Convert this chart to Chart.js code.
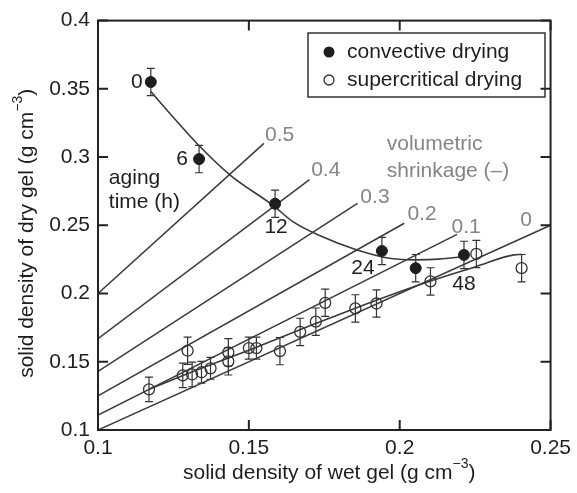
<!DOCTYPE html>
<html>
<head>
<meta charset="utf-8">
<script src="https://cdn.jsdelivr.net/npm/chart.js@4.4.0/dist/chart.umd.min.js"></script>
<style>
  body { margin: 0; background: #fff; }
</style>
</head>
<body>
<canvas id="gel-canvas" width="577" height="493"></canvas>
<script>
// convective drying, one point per aging time (h)
var agingLabels = ["0", "6", "12", "24", "", "48"];
var convWet = [0.1175, 0.1335, 0.1587, 0.1941, 0.2053, 0.2213];
var convDry = [0.355, 0.2985, 0.2658, 0.2312, 0.2186, 0.2283];
var convErr = [0.010, 0.010, 0.010, 0.010, 0.010, 0.010];

// supercritical drying
var superWet = [0.1169, 0.1281, 0.1297, 0.1312, 0.1343, 0.1373, 0.1432, 0.1432, 0.150, 0.1525,
                0.1603, 0.167, 0.1722, 0.1753, 0.1853, 0.1923, 0.2102, 0.2254, 0.2404];
var superDry = [0.1298, 0.140, 0.1581, 0.1407, 0.1423, 0.1452, 0.1569, 0.1503, 0.160, 0.160,
                0.1578, 0.1719, 0.1794, 0.1932, 0.1891, 0.1927, 0.2089, 0.229, 0.2186];
var superErr = [0.009, 0.009, 0.010, 0.009, 0.008, 0.008, 0.010, 0.010, 0.008, 0.008,
                0.010, 0.010, 0.010, 0.010, 0.010, 0.010, 0.010, 0.010, 0.010];

// guide curves through both data sets
var convCurveWet = [0.1175, 0.125, 0.1332, 0.144, 0.158, 0.1647, 0.175, 0.1842, 0.195, 0.2048, 0.213, 0.2213];
var convCurveDry = [0.348, 0.329, 0.309, 0.2864, 0.2646, 0.2525, 0.241, 0.2331, 0.2264, 0.2247, 0.2252, 0.227];
var superCurveWet = [0.1169, 0.13, 0.15, 0.17, 0.1853, 0.2, 0.21, 0.225, 0.2379, 0.2404];
var superCurveDry = [0.1298, 0.1415, 0.1585, 0.1762, 0.1893, 0.2013, 0.209, 0.2195, 0.2283, 0.2286];

// lines of constant volumetric shrinkage, from wet density 0.1 to their end
var shrinkLabels = ["0", "0.1", "0.2", "0.3", "0.4", "0.5"];
var shrinkStartDry = [0.1, 0.111, 0.125, 0.143, 0.167, 0.2];
var shrinkEndWet = [0.25, 0.219, 0.2015, 0.186, 0.1701, 0.155];
var shrinkEndDry = [0.25, 0.2433, 0.2515, 0.266, 0.2835, 0.31];

var xTickLabels = ["0.1", "0.15", "0.2", "0.25"];
var yTickLabels = ["0.1", "0.15", "0.2", "0.25", "0.3", "0.35", "0.4"];

var FONT = "'Liberation Sans', Arial, sans-serif";
var FS = 21;
var INK = "#1e1e1e";
var GREY = "#858585";

function pts(xs, ys) {
  return xs.map(function(x, i) { return { x: x, y: ys[i] }; });
}

var datasets = [];
datasets.push({
  label: "convective drying",
  data: pts(convWet, convDry),
  showLine: false,
  pointRadius: 5.5,
  pointBackgroundColor: INK,
  pointBorderColor: INK,
  pointBorderWidth: 1,
  order: 0
});
datasets.push({
  label: "supercritical drying",
  data: pts(superWet, superDry),
  showLine: false,
  pointRadius: 5.5,
  pointBackgroundColor: "rgba(0,0,0,0)",
  pointBorderColor: "#333",
  pointBorderWidth: 1.3,
  order: 1
});
datasets.push({
  data: pts(convCurveWet, convCurveDry),
  showLine: true,
  pointRadius: 0,
  borderColor: "#3a3a3a",
  borderWidth: 1.6,
  cubicInterpolationMode: "monotone",
  order: 2
});
datasets.push({
  data: pts(superCurveWet, superCurveDry),
  showLine: true,
  pointRadius: 0,
  borderColor: "#3a3a3a",
  borderWidth: 1.6,
  cubicInterpolationMode: "monotone",
  order: 2
});
for (var s = 0; s < shrinkLabels.length; s++) {
  datasets.push({
    data: [{ x: 0.1, y: shrinkStartDry[s] }, { x: shrinkEndWet[s], y: shrinkEndDry[s] }],
    showLine: true,
    pointRadius: 0,
    borderColor: "#3a3a3a",
    borderWidth: 1.5,
    order: 3
  });
}

// text placed in data units
var agingOffsets = [[-14, 0], [-17, 0], [1, 23], [-19, 17], [0, 0], [0, 29]];
var shrinkLabelPos = [[0.2419, 0.254], [0.222, 0.2489], [0.2074, 0.2583], [0.1918, 0.2707], [0.1755, 0.2903], [0.1602, 0.3157]];

function supText(ctx, base, sup, tail, x, y, size) {
  ctx.font = size + "px " + FONT;
  var w1 = ctx.measureText(base).width;
  var w3 = ctx.measureText(tail).width;
  ctx.font = Math.round(size * 0.68) + "px " + FONT;
  var w2 = ctx.measureText(sup).width;
  var x0 = x - (w1 + w2 + w3) / 2;
  ctx.textAlign = "left";
  ctx.textBaseline = "middle";
  ctx.font = size + "px " + FONT;
  ctx.fillText(base, x0, y);
  ctx.font = Math.round(size * 0.68) + "px " + FONT;
  ctx.fillText(sup, x0 + w1, y - size * 0.42);
  ctx.font = size + "px " + FONT;
  ctx.fillText(tail, x0 + w1 + w2, y);
}

var overlay = {
  id: "overlay",
  beforeDatasetsDraw: function(chart) {
    var ctx = chart.ctx, xs = chart.scales.x, ys = chart.scales.y;
    ctx.save();
    ctx.strokeStyle = "#333";
    ctx.lineWidth = 1.2;
    function bars(wx, dy, err) {
      for (var i = 0; i < wx.length; i++) {
        var px = xs.getPixelForValue(wx[i]);
        var top = ys.getPixelForValue(dy[i] + err[i]);
        var bot = ys.getPixelForValue(dy[i] - err[i]);
        ctx.beginPath();
        ctx.moveTo(px, top); ctx.lineTo(px, bot);
        ctx.moveTo(px - 4, top); ctx.lineTo(px + 4, top);
        ctx.moveTo(px - 4, bot); ctx.lineTo(px + 4, bot);
        ctx.stroke();
      }
    }
    bars(convWet, convDry, convErr);
    bars(superWet, superDry, superErr);
    ctx.restore();
  },
  afterDraw: function(chart) {
    var ctx = chart.ctx, a = chart.chartArea, xs = chart.scales.x, ys = chart.scales.y;
    ctx.save();
    // frame and inward ticks
    ctx.strokeStyle = "#222";
    ctx.lineWidth = 2;
    ctx.strokeRect(a.left, a.top, a.right - a.left, a.bottom - a.top);
    ctx.beginPath();
    xs.ticks.forEach(function(t) {
      var px = xs.getPixelForValue(t.value);
      ctx.moveTo(px, a.bottom); ctx.lineTo(px, a.bottom - 10);
      ctx.moveTo(px, a.top); ctx.lineTo(px, a.top + 10);
    });
    ys.ticks.forEach(function(t) {
      var py = ys.getPixelForValue(t.value);
      ctx.moveTo(a.left, py); ctx.lineTo(a.left + 10, py);
      ctx.moveTo(a.right, py); ctx.lineTo(a.right - 10, py);
    });
    ctx.stroke();

    // aging time next to the convective points
    ctx.fillStyle = INK;
    ctx.font = FS + "px " + FONT;
    ctx.textAlign = "center";
    ctx.textBaseline = "middle";
    for (var i = 0; i < agingLabels.length; i++) {
      if (!agingLabels[i]) continue;
      ctx.fillText(agingLabels[i],
        xs.getPixelForValue(convWet[i]) + agingOffsets[i][0],
        ys.getPixelForValue(convDry[i]) + agingOffsets[i][1]);
    }
    ctx.textAlign = "left";
    ctx.fillText("aging", xs.getPixelForValue(0.1036), ys.getPixelForValue(0.2845));
    ctx.fillText("time (h)", xs.getPixelForValue(0.1036), ys.getPixelForValue(0.267));

    // shrinkage labels
    ctx.fillStyle = GREY;
    ctx.textAlign = "center";
    for (var s = 0; s < shrinkLabels.length; s++) {
      ctx.fillText(shrinkLabels[s], xs.getPixelForValue(shrinkLabelPos[s][0]), ys.getPixelForValue(shrinkLabelPos[s][1]));
    }
    ctx.textAlign = "left";
    ctx.fillText("volumetric", xs.getPixelForValue(0.1957), ys.getPixelForValue(0.3092));
    ctx.fillText("shrinkage (\u2013)", xs.getPixelForValue(0.1957), ys.getPixelForValue(0.2895));

    // legend box
    ctx.strokeStyle = "#333";
    ctx.lineWidth = 1.5;
    ctx.strokeRect(308, 33, 237, 64);
    ctx.fillStyle = INK;
    ctx.beginPath();
    ctx.arc(329, 52, 5.5, 0, Math.PI * 2);
    ctx.fill();
    ctx.strokeStyle = "#333";
    ctx.lineWidth = 1.3;
    ctx.beginPath();
    ctx.arc(329, 80, 5, 0, Math.PI * 2);
    ctx.stroke();
    ctx.fillStyle = INK;
    ctx.font = FS + "px " + FONT;
    ctx.textAlign = "left";
    ctx.fillText(datasets[0].label, 347, 52);
    ctx.fillText(datasets[1].label, 347, 80);

    // axis titles
    ctx.fillStyle = INK;
    supText(ctx, "solid density of wet gel (g cm", "\u22123", ")", (a.left + a.right) / 2 + 5, 473, FS);
    ctx.translate(27, (a.top + a.bottom) / 2 + 8);
    ctx.rotate(-Math.PI / 2);
    supText(ctx, "solid density of dry gel (g cm", "\u22123", ")", 0, 0, FS);
    ctx.restore();
  }
};

var ctx = document.getElementById("gel-canvas");
var chart = new Chart(ctx, {
  type: "scatter",
  data: { datasets: datasets },
  options: {
    responsive: false,
    animation: false,
    layout: { padding: { top: 17, right: 18, left: 0, bottom: 0 } },
    plugins: { legend: { display: false }, tooltip: { enabled: false } },
    scales: {
      x: {
        type: "linear",
        min: 0.1, max: 0.25,
        afterFit: function(scale) { scale.height = 63; },
        grid: { drawOnChartArea: false, drawTicks: false },
        border: { display: false },
        ticks: {
          stepSize: 0.05,
          padding: 6,
          color: INK,
          font: { size: FS, family: FONT },
          maxRotation: 0,
          callback: function(v, i) { return xTickLabels[i]; }
        }
      },
      y: {
        type: "linear",
        min: 0.1, max: 0.4,
        afterFit: function(scale) { scale.width = 98; },
        grid: { drawOnChartArea: false, drawTicks: false },
        border: { display: false },
        ticks: {
          stepSize: 0.05,
          padding: 8,
          color: INK,
          font: { size: FS, family: FONT },
          callback: function(v, i) { return yTickLabels[i]; }
        }
      }
    }
  },
  plugins: [overlay]
});
</script>
</body>
</html>
